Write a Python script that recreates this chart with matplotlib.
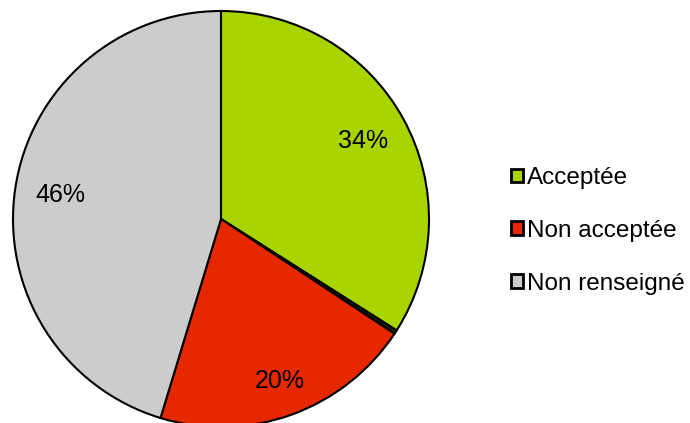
import matplotlib
matplotlib.use("Agg")
import matplotlib.pyplot as plt

categories = ["Acceptée", "", "Non acceptée", "Non renseigné"]
values = [34.0, 0.3, 20.4, 45.3]
pct_labels = ["34%", "", "20%", "46%"]
colors = ["#A8D400", "#202000", "#E62800", "#CCCCCC"]

plt.rcParams['font.family'] = ['Liberation Sans', 'DejaVu Sans']

fig = plt.figure(figsize=(6.9, 4.23), dpi=100)
ax = fig.add_axes([13/690, -4/423, 416/690, 416/423])
wedges, texts = ax.pie(values, colors=colors, startangle=90, counterclock=False,
                       labels=pct_labels, labeldistance=0.78,
                       wedgeprops=dict(edgecolor="black", linewidth=1.5),
                       textprops=dict(fontsize=18, ha="center", va="center"))
texts[2].set_position((texts[2].get_position()[0]*1.06, texts[2].get_position()[1]*1.06))
ax.set_xlim(-1, 1)
ax.set_ylim(-1, 1)
ax.set_aspect("equal")

handles = [wedges[0], wedges[2], wedges[3]]
labs = [categories[0], categories[2], categories[3]]
leg = fig.legend(handles, labs, loc="center left", bbox_to_anchor=(499/690, 1 - 231/423),
                 frameon=False, fontsize=17.5, handlelength=0.5, handleheight=0.5,
                 handletextpad=0.15, labelspacing=1.27, borderpad=0)
for p in leg.get_patches():
    p.set_linewidth(2)
fig.savefig("out.png", dpi=100)
